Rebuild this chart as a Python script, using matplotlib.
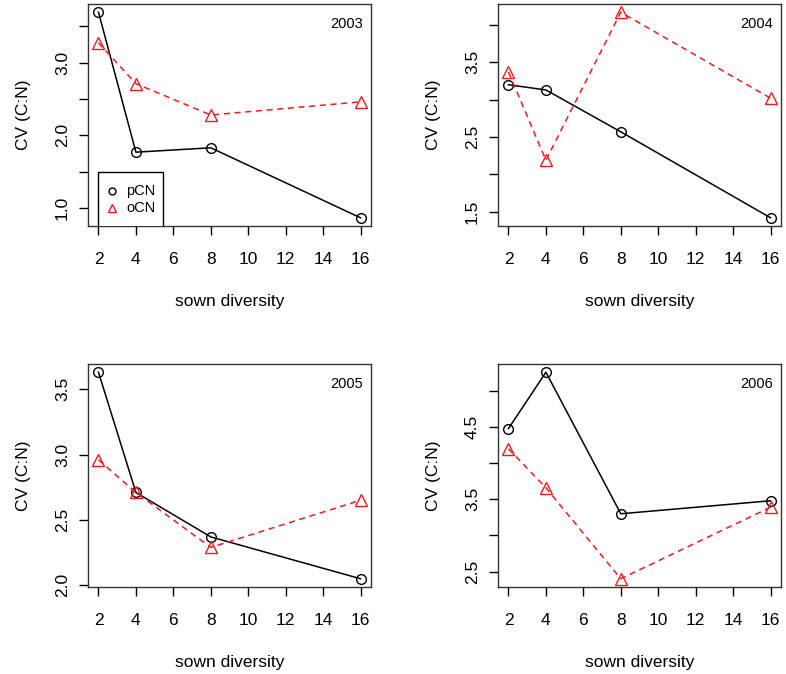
import matplotlib
matplotlib.use("Agg")
import matplotlib.pyplot as plt
from matplotlib.patches import Rectangle
import numpy as np

plt.rcParams['font.family'] = ['Liberation Sans', 'DejaVu Sans']

diversity = [2, 4, 8, 16]
years = ["2003", "2004", "2005", "2006"]
pCN = {
    "2003": [3.69, 1.77, 1.83, 0.87],
    "2004": [3.20, 3.13, 2.57, 1.42],
    "2005": [3.63, 2.71, 2.37, 2.05],
    "2006": [4.48, 5.26, 3.30, 3.48],
}
oCN = {
    "2003": [3.27, 2.71, 2.28, 2.46],
    "2004": [3.37, 2.19, 4.17, 3.02],
    "2005": [2.96, 2.71, 2.29, 2.65],
    "2006": [4.20, 3.66, 2.40, 3.39],
}
yticks = {
    "2003": [1.0, 1.5, 2.0, 2.5, 3.0, 3.5],
    "2004": [1.5, 2.0, 2.5, 3.0, 3.5, 4.0],
    "2005": [2.0, 2.5, 3.0, 3.5],
    "2006": [2.5, 3.0, 3.5, 4.0, 4.5, 5.0],
}
ylabels_shown = {
    "2003": [1.0, 2.0, 3.0],
    "2004": [1.5, 2.5, 3.5],
    "2005": [2.0, 2.5, 3.0, 3.5],
    "2006": [2.5, 3.5, 4.5],
}
xticks = [2, 4, 6, 8, 10, 12, 14, 16]

W, H = 786, 674
fig = plt.figure(figsize=(W / 100, H / 100), dpi=100)

positions = {
    "2003": (88, 4, 371, 226),
    "2004": (498, 4, 781, 226),
    "2005": (88, 364, 371, 587),
    "2006": (498, 364, 781, 587),
}
RED = '#ee1c1c'
FS = 12.5
FS_SMALL = 10.5

def rng(vals):
    lo, hi = min(vals), max(vals)
    d = (hi - lo) * 0.04
    return lo - d, hi + d

for yr in years:
    x0, y0, x1, y1 = positions[yr]
    ax = fig.add_axes([x0 / W, 1 - y1 / H, (x1 - x0) / W, (y1 - y0) / H])
    ax.plot(diversity, pCN[yr], color='black', lw=1.1, marker='o', ms=7,
            mfc='none', mec='black', mew=1.0)
    ax.plot(diversity, oCN[yr], color=RED, lw=1.1, ls=(0, (4, 3)), marker='^', ms=8,
            mfc='none', mec=RED, mew=1.0)
    ax.set_xlim(*rng(diversity))
    ax.set_ylim(*rng(pCN[yr] + oCN[yr]))
    ax.set_xticks(xticks)
    ax.set_xticklabels([str(t) for t in xticks], fontsize=FS)
    yt = yticks[yr]
    ax.set_yticks(yt)
    ax.set_yticklabels([("%.1f" % t) if t in ylabels_shown[yr] else "" for t in yt],
                       fontsize=FS, rotation=90, va='center')
    ax.tick_params(axis='x', direction='out', length=6.5, width=1, pad=12, colors='black')
    ax.tick_params(axis='y', direction='out', length=6.5, width=1, pad=6.5, colors='black')
    for s in ax.spines.values():
        s.set_color('#333333')
        s.set_linewidth(1.0)
    ax.set_xlabel("sown diversity", fontsize=FS, labelpad=20)
    ax.set_ylabel("CV (C:N)", fontsize=FS, labelpad=17)
    ax.text(0.973, 0.91, yr, transform=ax.transAxes, ha='right', va='center',
            fontsize=FS_SMALL)

    if yr == "2003":
        rect = Rectangle((0.034, -0.2), 0.231, 0.443, transform=ax.transAxes,
                         fill=True, facecolor='white', edgecolor='black', lw=1.0,
                         clip_on=True, zorder=3)
        ax.add_patch(rect)
        ax.plot([0.084], [0.156], transform=ax.transAxes, marker='o', ms=5,
                mfc='none', mec='black', mew=1.0, ls='none', zorder=4)
        ax.plot([0.084], [0.081], transform=ax.transAxes, marker='^', ms=6,
                mfc='none', mec=RED, mew=1.0, ls='none', zorder=4)
        ax.text(0.134, 0.156, "pCN", transform=ax.transAxes, ha='left',
                va='center', fontsize=FS_SMALL, zorder=4)
        ax.text(0.134, 0.081, "oCN", transform=ax.transAxes, ha='left',
                va='center', fontsize=FS_SMALL, zorder=4)

fig.savefig("out.png", dpi=100)
